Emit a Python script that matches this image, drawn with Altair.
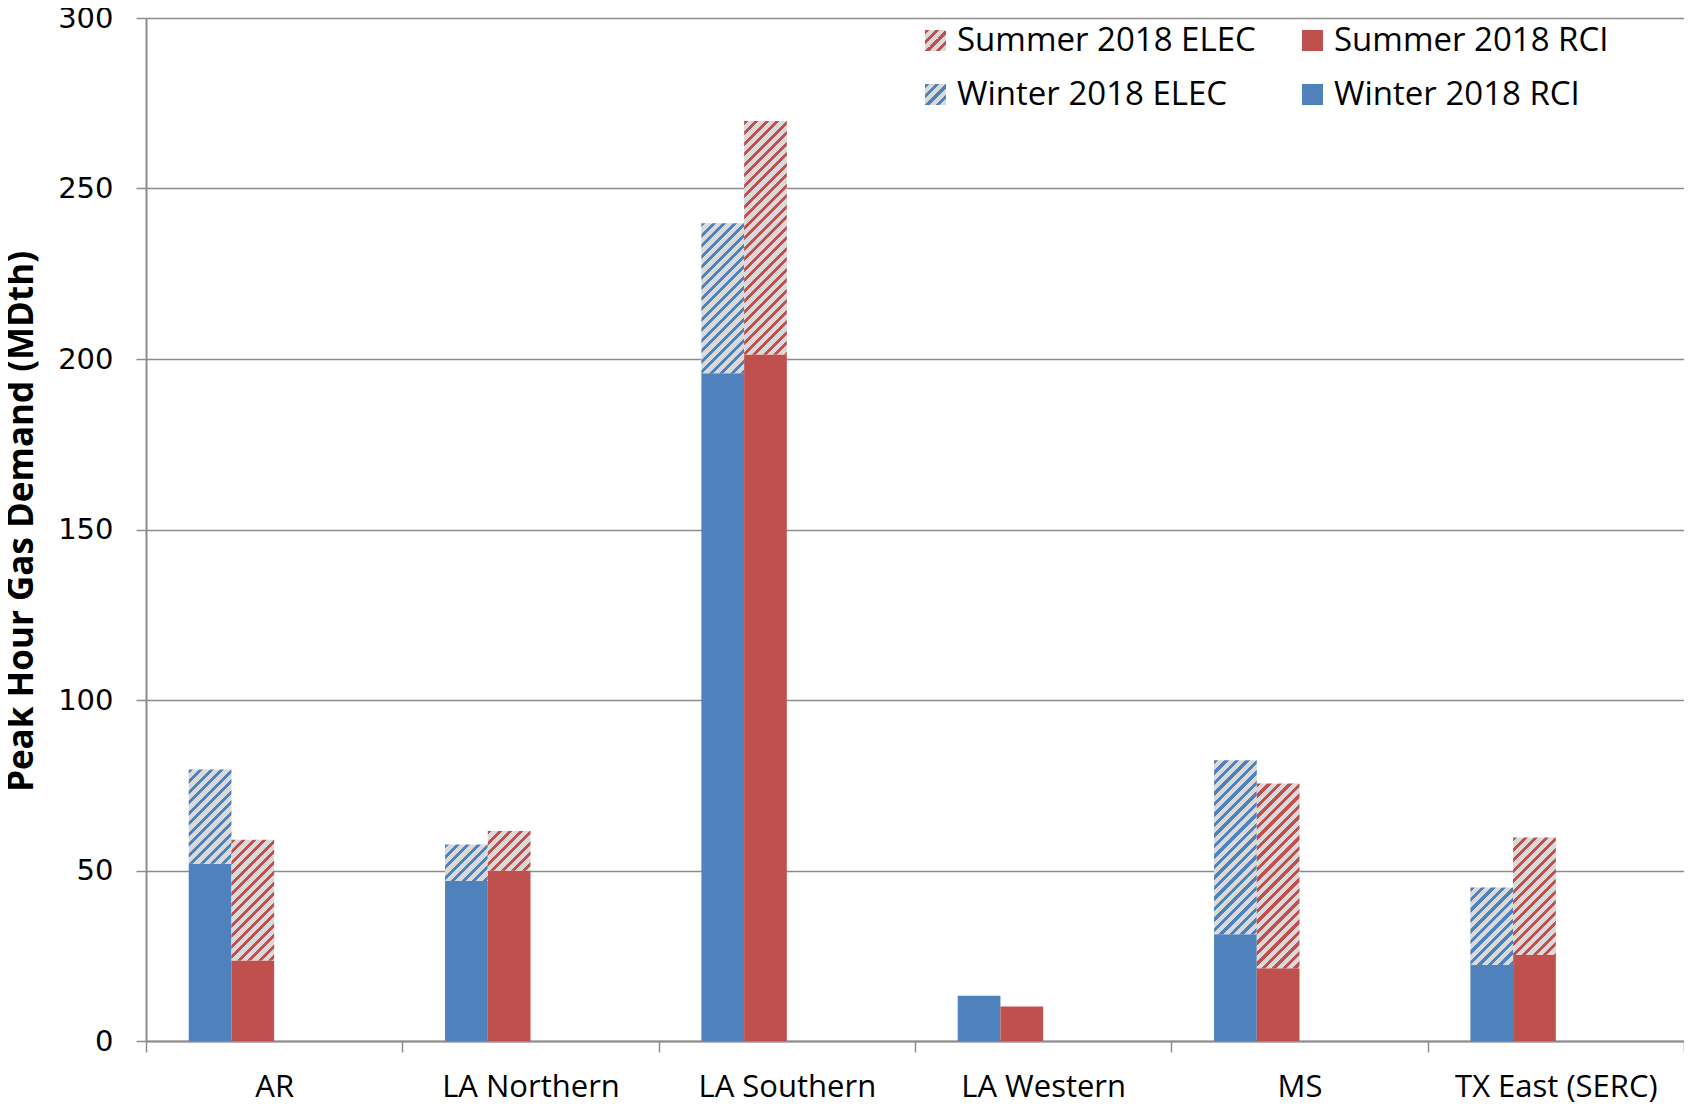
import altair as alt
import pandas as pd

# ---------------- data ----------------
regions = ["AR", "LA Northern", "LA Southern", "LA Western", "MS", "TX East (SERC)"]
winter_rci = [52.0, 46.9, 195.8, 13.3, 31.3, 22.3]
winter_elec = [27.6, 10.7, 44.0, 0.0, 51.0, 22.7]
summer_rci = [23.6, 49.9, 201.3, 10.1, 21.3, 25.2]
summer_elec = [35.4, 11.7, 68.5, 0.0, 54.2, 34.5]
seasons = ["Winter", "Summer"]
y_ticks = [0, 50, 100, 150, 200, 250, 300]
legend_labels = ["Summer 2018 ELEC", "Summer 2018 RCI", "Winter 2018 ELEC", "Winter 2018 RCI"]

# ---------------- style ----------------
BLUE = "#4f81bd"
RED = "#c0504d"
HATCH_BG = "#d9d9d9"
GRID = "#8c8c8c"
FONT = "Open Sans"
PAD = {"left": 138, "top": 10, "right": 0, "bottom": 66}
W, H = 1538, 1023
YMAX = 300
OFFSET_DOMAIN = ["Winter", "Summer", "_c3", "_c4"]
OUTER = 1.0
BAR_W = W / len(regions) / (len(OFFSET_DOMAIN) + 2 * OUTER)

rows = []
for i, r in enumerate(regions):
    rows.append(dict(region=r, season="Winter", rci=winter_rci[i], elec=winter_elec[i]))
    rows.append(dict(region=r, season="Summer", rci=summer_rci[i], elec=summer_elec[i]))
df = pd.DataFrame(rows)
df["total"] = df["rci"] + df["elec"]
df["key"] = df["region"] + "|" + df["season"]


def hatch(color, w, h, period=10.5, frac=0.4):
    """45-degree stripes emulated by a hard-stop linear gradient.

    SVG linear gradients live in object-bounding-box space; choosing the
    vector (k*w, k*h) with k=(w+h)/(w^2+h^2) makes t = (x+y)/(w+h) in pixels.
    """
    L = w + h
    k = L / (w * w + h * h)
    stops = []
    pos = 0.0
    while pos < L:
        a = pos / L
        b = min((pos + period * frac) / L, 1.0)
        c = min((pos + period) / L, 1.0)
        stops += [
            alt.GradientStop(offset=a, color=color),
            alt.GradientStop(offset=b, color=color),
            alt.GradientStop(offset=b, color=HATCH_BG),
            alt.GradientStop(offset=c, color=HATCH_BG),
        ]
        pos += period
    return alt.Gradient(gradient="linear", x1=0, y1=0, x2=k * w, y2=k * h, stops=stops)


x_enc = alt.X(
    "region:N",
    sort=regions,
    scale=alt.Scale(domain=regions, paddingInner=0, paddingOuter=0),
    axis=alt.Axis(
        title=None,
        labelFont=FONT,
        labelFontSize=31,
        labelColor="black",
        labelAngle=0,
        labelBaseline="alphabetic",
        labelPadding=44,
        labelLimit=500,
        tickSize=11,
        tickColor=GRID,
        tickWidth=1.5,
        tickBand="extent",
        domainColor=GRID,
        domainWidth=2,
        grid=False,
    ),
)
xoff_enc = alt.XOffset(
    "season:N",
    scale=alt.Scale(domain=OFFSET_DOMAIN, paddingInner=0, paddingOuter=OUTER),
)
y_scale = alt.Scale(domain=[0, YMAX], nice=False)
y_axis = alt.Axis(
    values=y_ticks,
    format="d",
    title="Peak Hour Gas Demand (MDth)",
    titleFont=FONT,
    titleFontSize=35,
    titleFontWeight="bold",
    titleColor="black",
    titleAngle=270,
    titleX=-125,
    titleY=503,
    titleAlign="center",
    titleBaseline="middle",
    labelFont="DejaVu Sans",
    labelFontSize=29,
    labelColor="black",
    labelPadding=23,
    tickSize=10,
    tickColor=GRID,
    tickWidth=1.5,
    domainColor=GRID,
    domainWidth=2,
    gridColor=GRID,
    gridWidth=1.5,
)

base = alt.Chart(df)

solid = base.mark_bar().encode(
    x=x_enc,
    xOffset=xoff_enc,
    y=alt.Y("rci:Q", scale=y_scale, axis=y_axis),
    color=alt.Color(
        "season:N",
        scale=alt.Scale(domain=seasons, range=[BLUE, RED]),
        legend=None,
    ),
)

layers = [solid]
px_per_unit = H / YMAX
for _, row in df.iterrows():
    if row["elec"] <= 0:
        continue
    h_px = row["elec"] * px_per_unit
    col = BLUE if row["season"] == "Winter" else RED
    layers.append(
        base.transform_filter(alt.datum.key == row["key"])
        .mark_bar(fill=hatch(col, BAR_W, h_px))
        .encode(
            x=x_enc,
            xOffset=xoff_enc,
            y=alt.Y("total:Q", scale=y_scale, axis=y_axis),
            y2="rci:Q",
        )
    )

# ---------------- legend (manual, to show hatched symbols) ----------------
SYM = 21
leg_specs = [
    (legend_labels[0], hatch(RED, SYM, SYM), 779, 22.5),
    (legend_labels[1], RED, 1156, 22.5),
    (legend_labels[2], hatch(BLUE, SYM, SYM), 779, 76.5),
    (legend_labels[3], BLUE, 1156, 76.5),
]
for label, fill, lx, ly in leg_specs:
    d = alt.Data(values=[{"label": label}])
    layers.append(
        alt.Chart(d)
        .mark_rect(fill=fill)
        .encode(
            x=alt.value(lx),
            x2=alt.value(lx + SYM),
            y=alt.value(ly - SYM / 2),
            y2=alt.value(ly + SYM / 2),
        )
    )
    layers.append(
        alt.Chart(d)
        .mark_text(align="left", baseline="middle", font=FONT, fontSize=33, color="black")
        .encode(x=alt.value(lx + 32), y=alt.value(ly), text="label:N")
    )

chart = (
    alt.layer(*layers)
    .properties(
        width=W,
        height=H,
        autosize=alt.AutoSizeParams(type="none"),
        padding=PAD,
    )
    .configure_view(strokeWidth=0)
)

chart.save("out.html", embed_options={"renderer": "svg", "actions": False})
